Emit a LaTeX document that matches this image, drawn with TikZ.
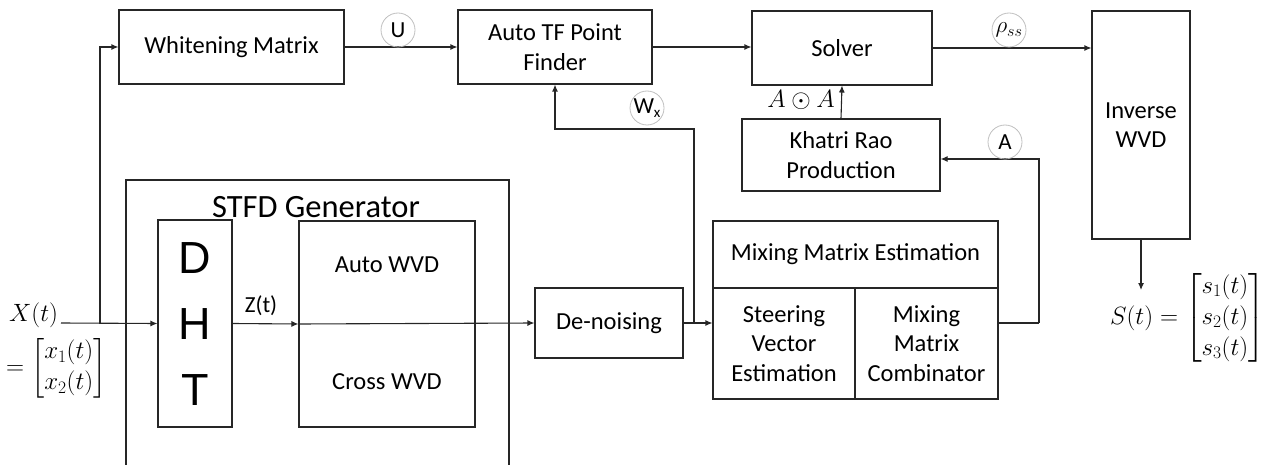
\documentclass[tikz,border=0pt]{standalone}
\usepackage{fix-cm}
\usepackage{amsmath}
\usepackage{fontspec}
\setmainfont{Carlito}
\newfontfamily\arialfont{Liberation Sans}
\usetikzlibrary{arrows.meta,calc}
\begin{document}
\begin{tikzpicture}[x=1pt,y=-1pt,
  box/.style={draw=black!85, line width=1.1pt, inner sep=0pt, align=center, font=\fontsize{24.5}{29.5}\selectfont},
  lbl/.style={draw=black!25, line width=0.8pt, circle, minimum size=34pt, inner sep=0pt, font=\fontsize{23}{25}\selectfont},
  conn/.style={draw=black!85, line width=1.1pt, -{Latex[length=7pt,width=6pt]}},
  wire/.style={draw=black!85, line width=1.1pt},
  txt/.style={inner sep=0pt, font=\fontsize{24.5}{29.5}\selectfont},
  big/.style={inner sep=0pt, font=\arialfont\fontsize{45}{48}\selectfont},
  mathtxt/.style={inner sep=0pt, font=\fontsize{25}{31}\selectfont}]
\useasboundingbox (0,0) rectangle (1281,465);
% boxes
\node[box, minimum width=225pt, minimum height=74pt] (white) at (231.5,47) {Whitening Matrix};
\node[box, minimum width=194pt, minimum height=74pt] (auto) at (555,47) {Auto TF Point\\Finder};
\node[box, minimum width=180pt, minimum height=74pt] (solver) at (842,48) {Solver};
\node[box, minimum width=98pt, minimum height=228pt] (inv) at (1141,125) {Inverse\\WVD};
\node[box, minimum width=198pt, minimum height=72pt] (khatri) at (841,155) {Khatri Rao\\Production};
% STFD generator (open at the bottom)
\draw[wire] (126,470) -- (126,180) -- (509,180) -- (509,470);
\node[inner sep=0pt, font=\fontsize{32.5}{36}\selectfont] (stfd) at (316,207) {STFD Generator};
\node[box, minimum width=74pt, minimum height=207pt] (dht) at (195,323.5) {};
\node[big] (dd) at (195,258.5) {D};
\node[big] (hh) at (195,324) {H};
\node[big] (tt) at (195,390) {T};
\node[box, minimum width=176pt, minimum height=206pt] (wvd) at (387,324) {};
\node[txt] (autowvd) at (387,265) {Auto WVD};
\node[txt] (crosswvd) at (387,382) {Cross WVD};
\node[box, minimum width=148pt, minimum height=70pt] (den) at (609,323) {De-noising};
% mixing matrix estimation
\node[box, minimum width=285pt, minimum height=67pt] (mixtop) at (855.5,254.5) {Mixing Matrix Estimation};
\node[box, minimum width=142pt, minimum height=111pt] (steer) at (784,343.5) {Steering\\Vector\\Estimation};
\node[box, minimum width=143pt, minimum height=111pt] (comb) at (926.5,343.5) {Mixing\\Matrix\\Combinator};
% coordinates
\coordinate (xin) at (61,323);
\coordinate (br) at (100,323);
\coordinate (wx) at (694,323);
\coordinate (wxturn) at (694,129);
\coordinate (mout) at (1039,323);
\coordinate (aturn) at (1039,159);
\coordinate (sout) at (1141,290);
% connectors
\draw[conn] (xin) -- (dht.west);
\draw[conn] (br) |- (white.west);
\draw[conn] (white.east) -- (auto.west);
\draw[conn] (auto.east) -- (auto.east -| solver.west);
\draw[conn] (solver.east) -- (solver.east -| inv.west);
\draw[conn] (dht.east) -- (wvd.west);
\draw[conn] (wvd.west) -- (den.west);
\draw[conn] (den.east) -- (den.east -| steer.west);
\draw[conn] (wx) -- (wxturn) -| (auto.south);
\draw[wire] (comb.east |- mout) -- (mout);
\draw[conn] (mout) -- (aturn) -- (aturn -| khatri.east);
\draw[conn] (khatri.north) -- (solver.south);
\draw[conn] (inv.south) -- (sout);
% labels
\node[lbl] (lu) at (398,30) {U};
\node[lbl] (lrho) at (1009,30) {$\rho_{ss}$};
\node[lbl] (lwx) at (647,108) {W\raisebox{-4pt}{\fontsize{15}{15}\selectfont x}};
\node[lbl] (la) at (1005,142) {A};
\node[mathtxt] (aoa) at (801,100) {$A\odot A$};
\node[inner sep=0pt, font=\fontsize{23}{26}\selectfont] (zt) at (261,306) {Z(t)};
\node[mathtxt, anchor=west] (xt) at (9,315) {$X(t)$};
\node[mathtxt, anchor=north west] (xvec) at (6,337) {$=\begin{bmatrix}x_1(t)\\x_2(t)\end{bmatrix}$};
\node[mathtxt, anchor=east] (st) at (1265,318) {$S(t)=\begin{bmatrix}s_1(t)\\s_2(t)\\s_3(t)\end{bmatrix}$};
\end{tikzpicture}
\end{document}
